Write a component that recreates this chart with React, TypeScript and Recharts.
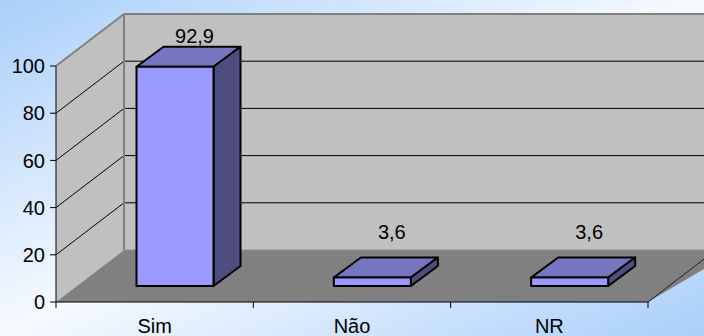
import React from 'react';
import { BarChart, Bar, XAxis, YAxis, LabelList } from 'recharts';

const categories = ['Sim', 'Não', 'NR'];
const percentValues = [92.9, 3.6, 3.6];
const valueLabels = ['92,9', '3,6', '3,6'];
const yTicks = [0, 20, 40, 60, 80, 100];

const data = categories.map((name, i) => ({ name, value: percentValues[i], label: valueLabels[i] }));

const W = 704;
const H = 336;
// front plane of the 3d box (matches margins + axis sizes below)
const PLOT = { left: 56, right: 648, top: 66, bottom: 302 };
const WALL_DX = 68;
const WALL_DY = -52;
// bars sit in the middle of the depth
const BAR_SHIFT_X = 20.5;
const BAR_SHIFT_Y = -16;
const BAR_DX = 27;
const BAR_DY = -20;
const FONT = '"Liberation Sans", Arial, sans-serif';

const yOf = (v: number) => PLOT.bottom - (v / 100) * (PLOT.bottom - PLOT.top);

const Walls = () => {
  const { left, right, top, bottom } = PLOT;
  const bx = left + WALL_DX;
  const pt = (x: number, y: number) => `${x},${y}`;
  return (
    <g>
      <polygon
        points={[pt(left, top), pt(bx, top + WALL_DY), pt(bx, bottom + WALL_DY), pt(left, bottom)].join(' ')}
        fill="#c0c0c0"
      />
      <rect x={bx} y={top + WALL_DY} width={W} height={bottom - top} fill="#c0c0c0" />
      <polygon
        points={[pt(left, bottom), pt(bx, bottom + WALL_DY), pt(right + WALL_DX + 20, bottom + WALL_DY), pt(right, bottom)].join(' ')}
        fill="#808080"
      />
      {yTicks.filter((v) => v > 0 && v < 100).map((v) => (
        <g key={v}>
          <line x1={left} y1={yOf(v)} x2={bx} y2={yOf(v) + WALL_DY} stroke="#000" strokeWidth={1} />
          <line x1={bx} y1={yOf(v) + WALL_DY} x2={W} y2={yOf(v) + WALL_DY} stroke="#000" strokeWidth={1} />
        </g>
      ))}
      <line x1={left} y1={top} x2={bx} y2={top + WALL_DY} stroke="#808080" strokeWidth={2} />
      <line x1={bx} y1={top + WALL_DY} x2={W} y2={top + WALL_DY} stroke="#808080" strokeWidth={2} />
      <line x1={bx} y1={top + WALL_DY} x2={bx} y2={bottom + WALL_DY} stroke="#808080" strokeWidth={2} />
      <line x1={bx} y1={bottom + WALL_DY} x2={W} y2={bottom + WALL_DY} stroke="#909090" strokeWidth={1} />
      <line x1={right} y1={bottom} x2={right + WALL_DX} y2={bottom + WALL_DY} stroke="#202020" strokeWidth={1} />
    </g>
  );
};

const Bar3D = (props: any) => {
  const { x, y, width, height } = props;
  if (width == null || height == null) return null;
  const fx = x + BAR_SHIFT_X;
  const fy = y + BAR_SHIFT_Y;
  const pts = (arr: number[][]) => arr.map((p) => p.join(',')).join(' ');
  return (
    <g stroke="#000" strokeWidth={2} strokeLinejoin="round">
      <polygon
        points={pts([[fx, fy], [fx + BAR_DX, fy + BAR_DY], [fx + width + BAR_DX, fy + BAR_DY], [fx + width, fy]])}
        fill="#7575c0"
      />
      <polygon
        points={pts([
          [fx + width, fy],
          [fx + width + BAR_DX, fy + BAR_DY],
          [fx + width + BAR_DX, fy + height + BAR_DY],
          [fx + width, fy + height],
        ])}
        fill="#4d4d80"
      />
      <rect x={fx} y={fy} width={width} height={height} fill="#9999ff" />
    </g>
  );
};

const ValueLabel = (props: any) => {
  const { x, y, width, value } = props;
  const base = Math.max(y - 55, 43);
  return (
    <text x={x + width / 2 + 40} y={base} textAnchor="middle" fontSize={20} fontFamily={FONT} fill="#000">
      {value}
    </text>
  );
};

const CategoryTick = (props: any) => {
  const { x, payload, index, visibleTicksCount } = props;
  const count = visibleTicksCount || categories.length;
  const band = (PLOT.right - PLOT.left) / count;
  return (
    <g>
      <line x1={x - band / 2} y1={PLOT.bottom} x2={x - band / 2} y2={PLOT.bottom + 6} stroke="#000" />
      {index === count - 1 && (
        <line x1={x + band / 2} y1={PLOT.bottom} x2={x + band / 2} y2={PLOT.bottom + 6} stroke="#000" />
      )}
      <text x={x} y={PLOT.bottom + 31} textAnchor="middle" fontSize={20} fontFamily={FONT} fill="#000">
        {payload.value}
      </text>
    </g>
  );
};

export default function App() {
  return (
    <div
      style={{
        position: 'absolute',
        left: 0,
        top: 0,
        width: W,
        height: H,
        background: 'linear-gradient(to bottom right, #a9cffa 0%, #f6faff 50%, #a9cffa 100%)',
      }}
    >
      <BarChart
        width={W}
        height={H}
        data={data}
        margin={{ top: PLOT.top, right: W - PLOT.right, bottom: 0, left: 0 }}
        barSize={77}
      >
        <Walls />
        <XAxis
          dataKey="name"
          height={H - PLOT.bottom}
          interval={0}
          axisLine={{ stroke: '#000', strokeWidth: 1 }}
          tickLine={false}
          tick={<CategoryTick />}
        />
        <YAxis
          domain={[0, 100]}
          ticks={yTicks}
          width={PLOT.left}
          tickSize={6}
          tickMargin={5}
          axisLine={{ stroke: '#000', strokeWidth: 1 }}
          tickLine={{ stroke: '#000' }}
          tick={{ fontSize: 20, fontFamily: FONT, fill: '#000' }}
        />
        <Bar dataKey="value" shape={<Bar3D />} isAnimationActive={false}>
          <LabelList dataKey="label" content={<ValueLabel />} />
        </Bar>
      </BarChart>
    </div>
  );
}
